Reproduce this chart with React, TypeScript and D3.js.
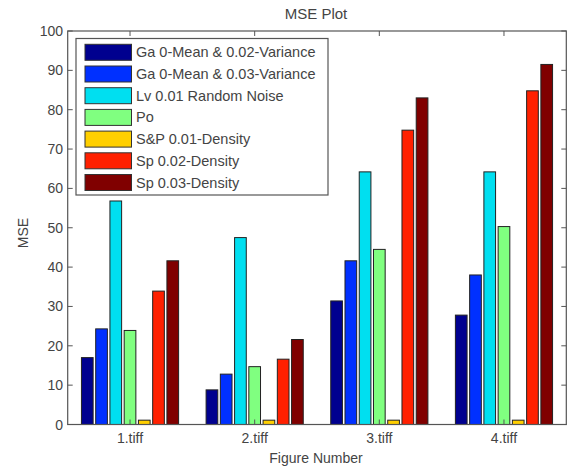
import React from "react";
import * as d3 from "d3";

const categories = ["1.tiff", "2.tiff", "3.tiff", "4.tiff"];
const seriesNames = [
  "Ga 0-Mean & 0.02-Variance",
  "Ga 0-Mean & 0.03-Variance",
  "Lv 0.01 Random Noise",
  "Po",
  "S&P 0.01-Density",
  "Sp 0.02-Density",
  "Sp 0.03-Density",
];
const seriesColors = ["#00008f", "#0030ff", "#00dff0", "#80ff80", "#ffcf00", "#ff2000", "#800000"];
// values[series][category]
const gaussian002 = [17.0, 8.8, 31.4, 27.8];
const gaussian003 = [24.3, 12.8, 41.6, 38.0];
const levy001 = [56.8, 47.5, 64.2, 64.2];
const poisson = [23.9, 14.7, 44.5, 50.3];
const saltPepper001 = [1.1, 1.1, 1.1, 1.1];
const speckle002 = [33.9, 16.6, 74.8, 84.8];
const speckle003 = [41.6, 21.6, 83.0, 91.5];
const values = [gaussian002, gaussian003, levy001, poisson, saltPepper001, speckle002, speckle003];
const yTicks = [0, 10, 20, 30, 40, 50, 60, 70, 80, 90, 100];

export default function App() {
  const W = 569, H = 470;
  const left = 67.7, right = 566.3, top = 31, bottom = 424.5;
  const x = d3.scaleLinear().domain([0.5, 4.5]).range([left, right]);
  const y = d3.scaleLinear().domain([0, 100]).range([bottom, top]);
  const n = seriesNames.length;
  const groupW = 0.8;
  const pitch = groupW / n;
  const barW = pitch * 0.82;
  const axisColor = "#555";
  const textColor = "#444";
  const font = "Liberation Sans, Arial, sans-serif";
  const unit = x(1) - x(0);

  return (
    <svg width={W} height={H} style={{ position: "absolute", left: 0, top: 0, background: "#fff" }} fontFamily={font}>
      <text x={316} y={19} textAnchor="middle" fontSize={15} fill={textColor}>MSE Plot</text>
      {/* bars */}
      {values.map((vals, si) =>
        vals.map((v, ci) => {
          const cx = x(ci + 1) - (groupW / 2) * unit + (si + 0.5) * pitch * unit;
          const w = barW * unit;
          return (
            <rect key={`${si}-${ci}`} x={cx - w / 2} y={y(v)} width={w} height={y(0) - y(v)}
              fill={seriesColors[si]} stroke="#222" strokeWidth={1} />
          );
        })
      )}
      {/* box */}
      <rect x={left} y={top} width={right - left} height={bottom - top} fill="none" stroke={axisColor} strokeWidth={1.2} />
      {/* y ticks */}
      {yTicks.map((t) => (
        <g key={t}>
          <line x1={left} x2={left + 5} y1={y(t)} y2={y(t)} stroke={axisColor} />
          <line x1={right} x2={right - 5} y1={y(t)} y2={y(t)} stroke={axisColor} />
          <text x={63} y={y(t) + 5} textAnchor="end" fontSize={14} fill={textColor}>{t}</text>
        </g>
      ))}
      {/* x ticks */}
      {categories.map((c, i) => (
        <g key={c}>
          <line x1={x(i + 1)} x2={x(i + 1)} y1={bottom} y2={bottom - 5} stroke={axisColor} />
          <line x1={x(i + 1)} x2={x(i + 1)} y1={top} y2={top + 5} stroke={axisColor} />
          <text x={x(i + 1)} y={443} textAnchor="middle" fontSize={14} fill={textColor}>{c}</text>
        </g>
      ))}
      <text x={316} y={463} textAnchor="middle" fontSize={14} fill={textColor}>Figure Number</text>
      <text transform={`translate(${28},${233}) rotate(-90)`} textAnchor="middle" fontSize={14} fill={textColor}>MSE</text>
      {/* legend */}
      <rect x={76} y={38.5} width={252} height={156.5} fill="#fff" stroke={axisColor} strokeWidth={1.2} />
      {seriesNames.map((s, i) => {
        const cy = 52.3 + i * 21.7;
        return (
          <g key={s}>
            <rect x={85} y={cy - 8} width={46.5} height={16} fill={seriesColors[i]} stroke="#333" strokeWidth={1} />
            <text x={136} y={cy + 5} fontSize={14.5} fill={textColor}>{s}</text>
          </g>
        );
      })}
    </svg>
  );
}
